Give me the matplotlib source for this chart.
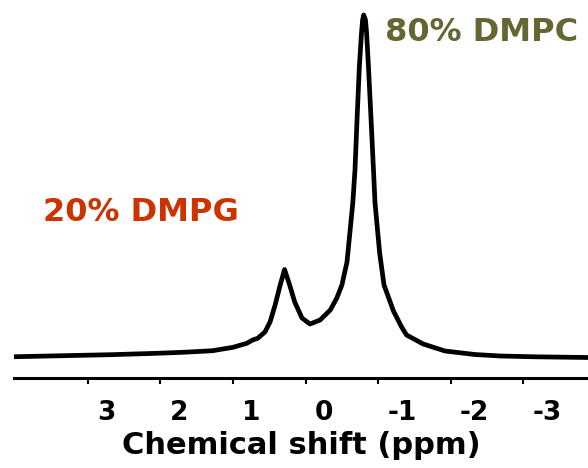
import matplotlib
matplotlib.use("Agg")
import matplotlib.pyplot as plt
import matplotlib.transforms as mtransforms

# Spectrum: chemical shift (ppm) and intensity (a.u.)
shift = [3.99, 2.69, 2.05, 1.69, 1.28, 1.00, 0.81, 0.73, 0.66, 0.56, 0.49, 0.42,
         0.35, 0.29, 0.22, 0.15, 0.05, -0.06, -0.20, -0.34, -0.43, -0.50, -0.57,
         -0.60, -0.65, -0.68, -0.71, -0.74, -0.77, -0.785, -0.80, -0.825, -0.84,
         -0.866, -0.90, -0.935, -0.956, -1.02, -1.08, -1.21, -1.32, -1.39, -1.62,
         -1.92, -2.33, -2.68, -3.16, -3.88]
intensity = [0.3, 2.3, 3.7, 4.7, 6.3, 9.7, 13.7, 17, 18.7, 25, 35, 52,
             72, 87.5, 72, 55, 39, 33, 37, 47, 59, 72, 95,
             117, 154, 187, 240, 290, 324, 337, 342, 337, 324,
             290, 240, 187, 154, 104, 72, 46, 30.3, 22, 13,
             6, 2.5, 1, 0.2, -0.5]

tick_values = [3, 2, 1, 0, -1, -2, -3]
tick_labels = ["3", "2", "1", "0", "-1", "-2", "-3"]

fig = plt.figure(figsize=(5.88, 4.68), dpi=100)
ax = fig.add_axes([14 / 588, 90 / 468, 574 / 588, 378 / 468])

ax.plot(shift, intensity, color="black", lw=3.4, solid_joinstyle="round")

ax.set_xlim(4.017, -3.890)
ax.set_ylim(-21, 357)

for s in ["top", "right", "left"]:
    ax.spines[s].set_visible(False)
ax.spines["bottom"].set_linewidth(2.2)
ax.set_yticks([])

ax.set_xticks(tick_values)
ax.set_xticklabels(tick_labels, fontsize=19, fontweight="bold")
ax.tick_params(axis="x", direction="out", length=4.5, width=1.5, pad=11)
offset = mtransforms.ScaledTranslation(9 / 100, 0, fig.dpi_scale_trans)
for lab in ax.get_xticklabels():
    lab.set_horizontalalignment("left")
    lab.set_transform(lab.get_transform() + offset)

ax.set_xlabel("Chemical shift (ppm)", fontsize=22, fontweight="bold", labelpad=4)

ax.text(0.646, 0.913, "80% DMPC", transform=ax.transAxes, color="#666633",
        fontsize=23, fontweight="bold", ha="left", va="center")
ax.text(0.0505, 0.439, "20% DMPG", transform=ax.transAxes, color="#cc3300",
        fontsize=23, fontweight="bold", ha="left", va="center")

fig.savefig("out.png", dpi=100)
